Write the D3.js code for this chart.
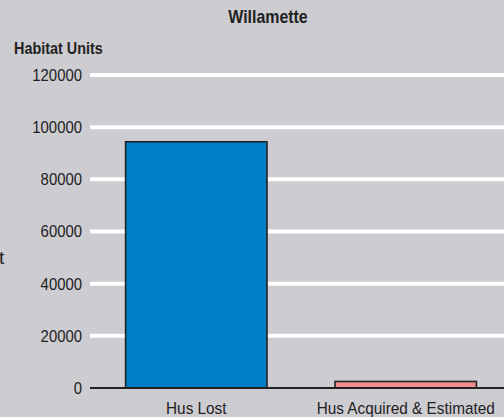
<!DOCTYPE html>
<html>
<head>
<meta charset="utf-8">
<script src="https://cdn.jsdelivr.net/npm/d3@7"></script>
<style>
  html, body { margin: 0; padding: 0; background: #cdccd1; overflow: hidden; }
  svg { display: block; font-family: "Liberation Sans", Arial, sans-serif; }
</style>
</head>
<body>
<svg id="chart" width="504" height="417"></svg>
<script>
// Habitat units lost vs. acquired for the Willamette basin
const categories = ["Hus Lost", "Hus Acquired & Estimated"];
const values = [94400, 2500];
const barColors = ["#007ec6", "#f08c8c"];
const yTicks = [0, 20000, 40000, 60000, 80000, 100000, 120000];

const svg = d3.select("#chart");
const W = 504, H = 417;
const plot = { left: 90, right: 512, top: 75, bottom: 388 };
const narrow = 0.92; // slightly condensed lettering

svg.append("rect").attr("width", W).attr("height", H).attr("fill", "#cdccd1");

const x = d3.scaleBand()
  .domain(categories)
  .range([plot.left, plot.right])
  .paddingInner(0.325)
  .paddingOuter(0.17);

const y = d3.scaleLinear()
  .domain([0, 120000])
  .range([plot.bottom, plot.top]);

// Horizontal white gridlines
svg.append("g")
  .selectAll("line")
  .data(yTicks.filter(d => d > 0))
  .join("line")
  .attr("x1", plot.left)
  .attr("x2", W)
  .attr("y1", d => y(d))
  .attr("y2", d => y(d))
  .attr("stroke", "#ffffff")
  .attr("stroke-width", 4);

// Y tick labels
svg.append("g")
  .selectAll("text")
  .data(yTicks)
  .join("text")
  .attr("transform", d => `translate(82,${y(d)}) scale(${narrow},1)`)
  .attr("dy", "0.36em")
  .attr("text-anchor", "end")
  .attr("fill", "#222")
  .attr("font-size", 16.2)
  .text(d => d);

// Bars
svg.append("g")
  .selectAll("rect")
  .data(values)
  .join("rect")
  .attr("x", (d, i) => x(categories[i]))
  .attr("width", x.bandwidth())
  .attr("y", d => y(d))
  .attr("height", d => y(0) - y(d))
  .attr("fill", (d, i) => barColors[i])
  .attr("stroke", "#222")
  .attr("stroke-width", 1.6);

// Baseline
svg.append("line")
  .attr("x1", plot.left).attr("x2", W)
  .attr("y1", y(0)).attr("y2", y(0))
  .attr("stroke", "#222")
  .attr("stroke-width", 2);

// Category labels
svg.append("g")
  .selectAll("text")
  .data(categories)
  .join("text")
  .attr("transform", d => `translate(${x(d) + x.bandwidth() / 2},414) scale(${narrow + 0.01},1)`)
  .attr("text-anchor", "middle")
  .attr("fill", "#222")
  .attr("font-size", 16.5)
  .text(d => d);

// Title and axis caption
svg.append("text")
  .attr("transform", `translate(268,23) scale(0.91,1)`)
  .attr("text-anchor", "middle")
  .attr("font-weight", "bold")
  .attr("font-size", 17.5)
  .attr("fill", "#222")
  .text("Willamette");

svg.append("text")
  .attr("transform", `translate(14,54) scale(0.9,1)`)
  .attr("font-weight", "bold")
  .attr("font-size", 16)
  .attr("fill", "#222")
  .text("Habitat Units");

svg.append("text")
  .attr("x", -1).attr("y", 264)
  .attr("font-size", 19)
  .attr("fill", "#222")
  .text("t");
</script>
</body>
</html>
